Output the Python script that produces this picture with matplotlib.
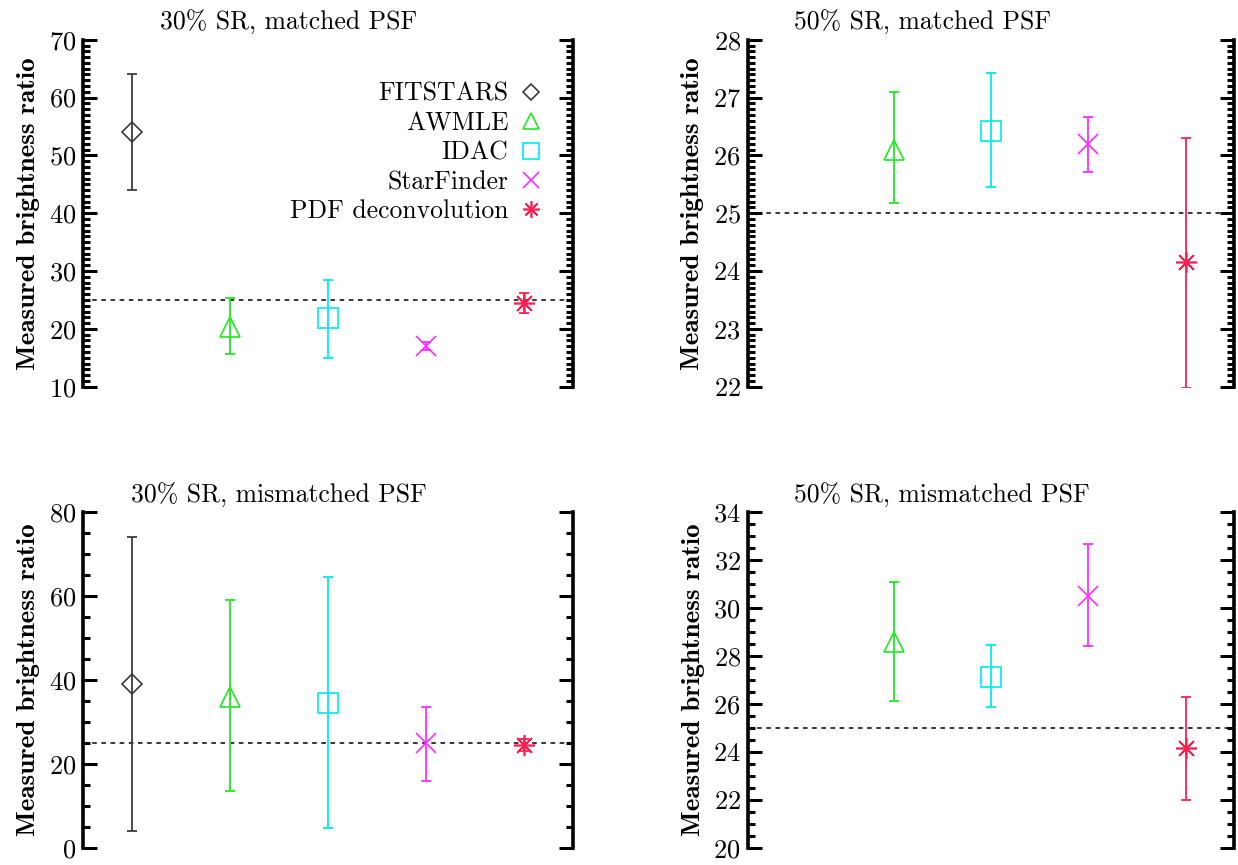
import matplotlib
matplotlib.use("Agg")
import matplotlib.pyplot as plt
from matplotlib.lines import Line2D
from matplotlib.ticker import MultipleLocator, AutoMinorLocator

plt.rcParams['font.family'] = ['cmr10', 'DejaVu Serif']
plt.rcParams['mathtext.fontset'] = 'cm'
plt.rcParams['axes.formatter.use_mathtext'] = True

# methods, in plotting order (x = 1..5)
methods = ["FITSTARS", "AWMLE", "IDAC", "StarFinder", "PDF deconvolution"]
colors = ["#3c3c3c", "#22e822", "#00eaea", "#ff2cff", "#ff1f4f"]
markers = ["D", "^", "s", "x", (8, 2, 0)]
msizes = [10, 15, 14, 15, 15]

# values (None = method not shown)
sr30_matched = [54.0, 20.3, 21.9, 17.0, 24.5]
sr30_matched_lo = [44.0, 15.6, 15.0, 16.3, 22.8]
sr30_matched_hi = [64.0, 25.3, 28.5, 17.8, 26.2]

sr50_matched = [None, 26.1, 26.42, 26.2, 24.15]
sr50_matched_lo = [None, 25.18, 25.45, 25.72, 21.97]
sr50_matched_hi = [None, 27.1, 27.42, 26.66, 26.3]

sr30_mismatched = [39.0, 36.0, 34.5, 25.0, 24.5]
sr30_mismatched_lo = [4.0, 13.5, 4.8, 16.0, 23.0]
sr30_mismatched_hi = [74.0, 59.0, 64.5, 33.5, 26.0]

sr50_mismatched = [None, 28.6, 27.1, 30.5, 24.15]
sr50_mismatched_lo = [None, 26.1, 25.85, 28.4, 22.0]
sr50_mismatched_hi = [None, 31.1, 28.45, 32.65, 26.3]

true_ratio = 25.0

panels = [
    ("30% SR, matched PSF", sr30_matched, sr30_matched_lo, sr30_matched_hi, (10, 70), 10, 10),
    ("50% SR, matched PSF", sr50_matched, sr50_matched_lo, sr50_matched_hi, (22, 28), 1, 10),
    ("30% SR, mismatched PSF", sr30_mismatched, sr30_mismatched_lo, sr30_mismatched_hi, (0, 80), 20, 4),
    ("50% SR, mismatched PSF", sr50_mismatched, sr50_mismatched_lo, sr50_mismatched_hi, (20, 34), 2, 4),
]

# axes boxes in figure fraction [left, bottom, width, height], title x in axes fraction
boxes = [
    [0.067, 0.553, 0.396, 0.401],
    [0.604, 0.553, 0.393, 0.401],
    [0.067, 0.02, 0.396, 0.388],
    [0.604, 0.02, 0.393, 0.388],
]
title_x = [0.42, 0.36, 0.40, 0.40]

fig = plt.figure(figsize=(12.38, 8.65), dpi=100)

for (title, vals, lo, hi, ylim, major, nminor), box, tx in zip(panels, boxes, title_x):
    ax = fig.add_axes(box)
    for i, v in enumerate(vals):
        if v is None:
            continue
        ax.errorbar([i + 1], [v], yerr=[[v - lo[i]], [hi[i] - v]],
                    fmt='none', ecolor=colors[i], elinewidth=1.3,
                    capsize=3.5, capthick=1.3, zorder=3)
        ax.plot([i + 1], [v], linestyle='none', marker=markers[i],
                ms=msizes[i], mfc='none', mec=colors[i], mew=1.2, zorder=4)
    ax.axhline(true_ratio, color='black', linestyle=(0, (3, 3)), lw=1.1, zorder=2)

    ax.set_xlim(0.5, 5.5)
    ax.set_ylim(*ylim)
    ax.set_xticks([])
    ax.spines['top'].set_visible(False)
    ax.spines['bottom'].set_visible(False)
    ax.spines['left'].set_linewidth(2.6)
    ax.spines['right'].set_linewidth(2.6)
    ax.yaxis.set_major_locator(MultipleLocator(major))
    ax.yaxis.set_minor_locator(AutoMinorLocator(nminor))
    ax.tick_params(axis='y', which='both', direction='in', left=True, right=True,
                   width=2.2, labelsize=19, pad=5)
    ax.tick_params(axis='y', which='major', length=10)
    ax.tick_params(axis='y', which='minor', length=5)
    ax.set_title(title, fontsize=18.5, pad=7, x=tx)
    ax.set_ylabel("Measured brightness ratio", fontsize=19.5,
                  family=['cmb10', 'DejaVu Serif'], labelpad=6)

    if title == "30% SR, matched PSF":
        handles = [Line2D([], [], linestyle='none', marker=markers[i], ms=msizes[i] * 0.8,
                          mfc='none', mec=colors[i], mew=1.2) for i in range(len(methods))]
        ax.legend(handles, methods, loc='upper right', bbox_to_anchor=(0.962, 0.915),
                  frameon=False, markerfirst=False, fontsize=18.5, handlelength=0.8,
                  handletextpad=0.5, labelspacing=0.22, borderpad=0)

fig.savefig("out.png", dpi=100)
